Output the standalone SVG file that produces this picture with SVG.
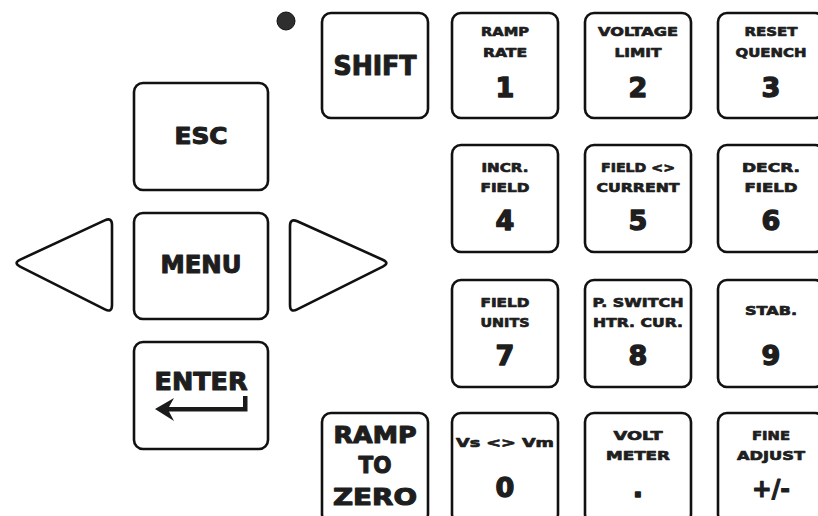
<svg xmlns="http://www.w3.org/2000/svg" width="818" height="516" viewBox="0 0 818 516">
<style>
.key{fill:#fff;stroke:#111;stroke-width:2.6}
.t{font-family:"DejaVu Sans","Liberation Sans",sans-serif;font-weight:bold;fill:#1e1e1e;stroke:#1e1e1e;stroke-width:1.1;stroke-linejoin:round;text-anchor:middle}
.s{font-size:13px;stroke-width:0.7}
.d{font-size:27px;stroke-width:1.4}
.b{font-size:25px}
</style>
<rect width="818" height="516" fill="#fff"/>
<g id="led"><circle cx="286" cy="21" r="9" fill="#2e2e2e" stroke="#111" stroke-width="1"/></g>
<g id="left"><path class="key" d="M20.3,259.6 L104.7,220.4 Q112,217 112,225 L112,305 Q112,313 104.9,309.4 L20.1,266.6 Q13,263 20.3,259.6 Z"/></g>
<g id="right"><path class="key" d="M297.3,221.3 L382.7,259.7 Q390,263 382.8,266.6 L297.2,309.4 Q290,313 290,305 L290,226 Q290,218 297.3,221.3 Z"/></g>
<g id="esc"><rect class="key" x="134" y="83" width="134" height="107" rx="9"/><text class="t" x="201" y="144" font-size="23" textLength="53" lengthAdjust="spacingAndGlyphs">ESC</text></g>
<g id="menu"><rect class="key" x="134" y="213" width="134" height="106" rx="9"/><text class="t b" x="201" y="273" textLength="81" lengthAdjust="spacingAndGlyphs">MENU</text></g>
<g id="enter"><rect class="key" x="134" y="342" width="134" height="107" rx="9"/><text class="t b" x="201" y="390" textLength="93" lengthAdjust="spacingAndGlyphs">ENTER</text>
<path d="M155,409 L174,398 L169,407 L243,407 L243,396 L247.5,396 L247.5,411.5 L169,411.5 L174,421 Z" fill="#1a1a1a"/></g>
<g id="shift"><rect class="key" x="322" y="13" width="106" height="105" rx="9"/><text class="t" x="375" y="75" font-size="26" textLength="83" lengthAdjust="spacingAndGlyphs">SHIFT</text></g>
<g id="rampzero"><rect class="key" x="322" y="413" width="106" height="110" rx="9"/>
<text class="t" x="375" y="443" font-size="23" textLength="83" lengthAdjust="spacingAndGlyphs">RAMP</text>
<text class="t" x="375" y="473" font-size="23" textLength="33" lengthAdjust="spacingAndGlyphs">TO</text>
<text class="t" x="375" y="505" font-size="23" textLength="84" lengthAdjust="spacingAndGlyphs">ZERO</text></g>
<g id="k1"><rect class="key" x="452" y="13" width="106" height="105" rx="9"/><text class="t s" x="505" y="36" textLength="48" lengthAdjust="spacingAndGlyphs">RAMP</text><text class="t s" x="505" y="57" textLength="44" lengthAdjust="spacingAndGlyphs">RATE</text><text class="t d" x="505" y="97">1</text></g>
<g id="k2"><rect class="key" x="585" y="13" width="106" height="105" rx="9"/><text class="t s" x="638" y="36" textLength="80" lengthAdjust="spacingAndGlyphs">VOLTAGE</text><text class="t s" x="638" y="57" textLength="47" lengthAdjust="spacingAndGlyphs">LIMIT</text><text class="t d" x="638" y="97">2</text></g>
<g id="k3"><rect class="key" x="718" y="13" width="106" height="105" rx="9"/><text class="t s" x="771" y="36" textLength="53" lengthAdjust="spacingAndGlyphs">RESET</text><text class="t s" x="771" y="57" textLength="71" lengthAdjust="spacingAndGlyphs">QUENCH</text><text class="t d" x="771" y="97">3</text></g>
<g id="k4"><rect class="key" x="452" y="145" width="106" height="107" rx="9"/><text class="t s" x="505" y="172" textLength="47" lengthAdjust="spacingAndGlyphs">INCR.</text><text class="t s" x="505" y="192" textLength="49" lengthAdjust="spacingAndGlyphs">FIELD</text><text class="t d" x="505" y="230">4</text></g>
<g id="k5"><rect class="key" x="585" y="145" width="106" height="107" rx="9"/><text class="t s" x="638" y="172" textLength="74" lengthAdjust="spacingAndGlyphs">FIELD &lt;&gt;</text><text class="t s" x="638" y="192" textLength="83" lengthAdjust="spacingAndGlyphs">CURRENT</text><text class="t d" x="638" y="230">5</text></g>
<g id="k6"><rect class="key" x="718" y="145" width="106" height="107" rx="9"/><text class="t s" x="771" y="172" textLength="58" lengthAdjust="spacingAndGlyphs">DECR.</text><text class="t s" x="771" y="192" textLength="53" lengthAdjust="spacingAndGlyphs">FIELD</text><text class="t d" x="771" y="230">6</text></g>
<g id="k7"><rect class="key" x="452" y="280" width="106" height="107" rx="9"/><text class="t s" x="505" y="307" textLength="49" lengthAdjust="spacingAndGlyphs">FIELD</text><text class="t s" x="505" y="327" textLength="49" lengthAdjust="spacingAndGlyphs">UNITS</text><text class="t d" x="505" y="365">7</text></g>
<g id="k8"><rect class="key" x="585" y="280" width="106" height="107" rx="9"/><text class="t s" x="638" y="307" textLength="91" lengthAdjust="spacingAndGlyphs">P. SWITCH</text><text class="t s" x="638" y="327" textLength="90" lengthAdjust="spacingAndGlyphs">HTR. CUR.</text><text class="t d" x="638" y="365">8</text></g>
<g id="k9"><rect class="key" x="718" y="280" width="106" height="107" rx="9"/><text class="t s" x="771" y="315" textLength="52" lengthAdjust="spacingAndGlyphs">STAB.</text><text class="t d" x="771" y="365">9</text></g>
<g id="k0"><rect class="key" x="452" y="413" width="106" height="110" rx="9"/><text class="t s" x="505" y="447" textLength="98" lengthAdjust="spacingAndGlyphs">Vs &lt;&gt; Vm</text><text class="t d" x="505" y="497">0</text></g>
<g id="kdot"><rect class="key" x="585" y="413" width="106" height="110" rx="9"/><text class="t s" x="638" y="440" textLength="49" lengthAdjust="spacingAndGlyphs">VOLT</text><text class="t s" x="638" y="460" textLength="64" lengthAdjust="spacingAndGlyphs">METER</text><text class="t d" x="638" y="497">.</text></g>
<g id="kpm"><rect class="key" x="718" y="413" width="106" height="110" rx="9"/><text class="t s" x="771" y="440" textLength="38" lengthAdjust="spacingAndGlyphs">FINE</text><text class="t s" x="771" y="460" textLength="68" lengthAdjust="spacingAndGlyphs">ADJUST</text><text class="t" x="771" y="497" font-size="25" textLength="38" lengthAdjust="spacingAndGlyphs">+/-</text></g>
</svg>
